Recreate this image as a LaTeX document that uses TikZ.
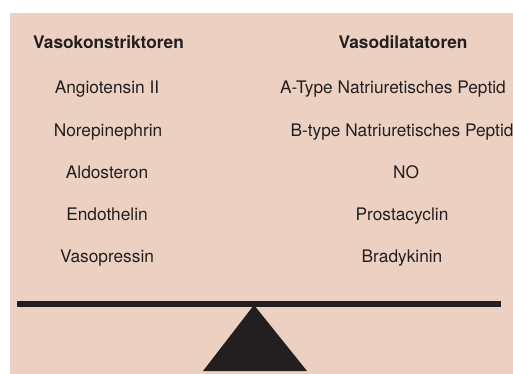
\documentclass[tikz,border=0pt]{standalone}
\usepackage{fontspec}
\setmainfont{TeX Gyre Heros}
\definecolor{bgpink}{RGB}{236,208,194}
\definecolor{ink}{RGB}{35,31,32}
\begin{document}
\begin{tikzpicture}[x=1pt,y=-1pt,
  lbl/.style={anchor=base,inner sep=0pt,text=ink,font=\fontsize{17.3}{20}\selectfont},
  hdr/.style={lbl,font=\fontsize{17.3}{20}\selectfont\bfseries}]
\useasboundingbox (0,0) rectangle (513,374);
\fill[white] (0,0) rectangle (513,374);
\fill[bgpink] (10,13) rectangle (513,374);
\node[hdr] (hl) at (108.5,49) {Vasokonstriktoren};
\node[hdr] (hr) at (403,49) {Vasodilatatoren};
\node[lbl] (l1) at (107,94) {Angiotensin II};
\node[lbl] (l2) at (108,136) {Norepinephrin};
\node[lbl] (l3) at (107,178) {Aldosteron};
\node[lbl] (l4) at (107,220) {Endothelin};
\node[lbl] (l5) at (107,262) {Vasopressin};
\node[lbl] (r1) at (393,94) {A-Type Natriuretisches Peptid};
\node[lbl] (r2) at (402,136) {B-type Natriuretisches Peptid};
\node[lbl] (r3) at (406,178) {NO};
\node[lbl] (r4) at (402,220) {Prostacyclin};
\node[lbl] (r5) at (402,262) {Bradykinin};
\fill[ink] (17,301) rectangle (501,307);
\coordinate (apex) at (254,305);
\fill[ink] (apex) -- (307,371) -- (203,371) -- cycle;
\end{tikzpicture}
\end{document}
